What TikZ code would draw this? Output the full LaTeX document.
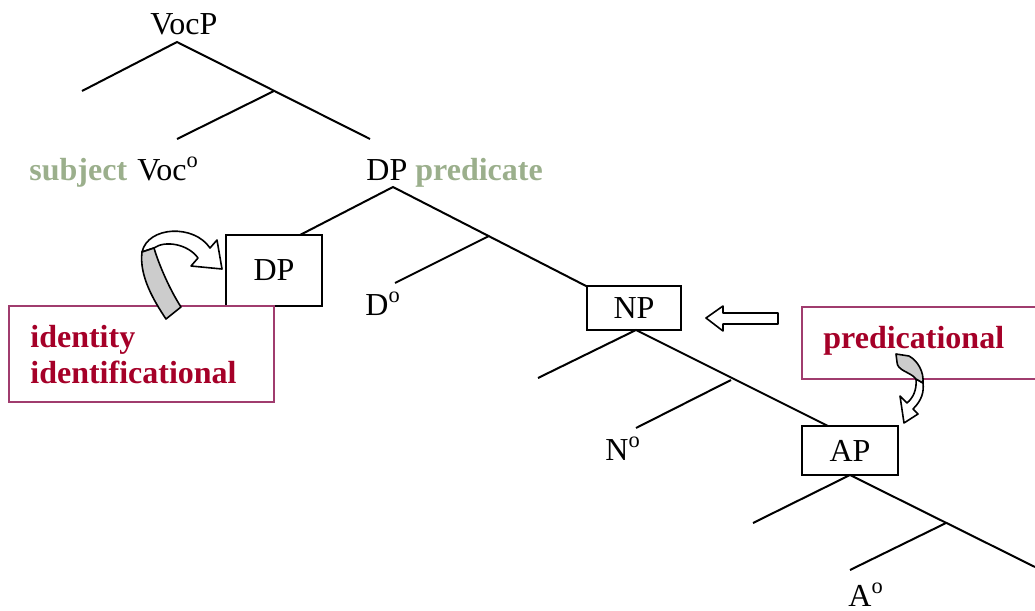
\documentclass[tikz,border=0pt]{standalone}
\usepackage{fontspec}
\setmainfont{Liberation Serif}
\usetikzlibrary{calc}
\definecolor{subjgreen}{RGB}{155,175,140}
\definecolor{rolered}{RGB}{165,0,40}
\definecolor{boxpink}{RGB}{160,60,110}
\tikzset{
  lbl/.style={anchor=base west,inner sep=0pt,font=\fontsize{16}{19}\selectfont},
  greenlbl/.style={lbl,font=\fontsize{16}{19}\selectfont\bfseries,text=subjgreen},
  rolelbl/.style={lbl,font=\fontsize{16}{19}\selectfont\bfseries,text=rolered},
  branch/.style={line width=1pt},
  catbox/.style={draw,line width=1pt,inner sep=0pt,font=\fontsize{16}{19}\selectfont},
  rolebox/.style={draw=boxpink,line width=0.8pt},
  bendarrow/.style={draw,line width=0.8pt,line join=round},
}
\begin{document}
\begin{tikzpicture}[x=0.5pt,y=-0.5pt]
\useasboundingbox (0,0) rectangle (1035,611);

% labels
\node[lbl] (vocp) at (150,34) {VocP};
\node[greenlbl] (subj) at (29,180) {subject};
\node[lbl] (voc) at (137,180) {Voc\textsuperscript{o}};
\node[lbl] (dp) at (366,180) {DP};
\node[greenlbl] (pred) at (415,180) {predicate};
\node[lbl] (dhead) at (365,315) {D\textsuperscript{o}};
\node[lbl] (nhead) at (605,460) {N\textsuperscript{o}};
\node[lbl] (ahead) at (848,606) {A\textsuperscript{o}};

\node[catbox,minimum width=48pt,minimum height=35.5pt] (dpbox) at (274,270.5) {DP};
\node[catbox,minimum width=47pt,minimum height=22pt] (npbox) at (634,308) {NP};
\node[catbox,minimum width=48pt,minimum height=24.5pt] (apbox) at (850,450.5) {AP};

% VocP
\coordinate (voc-root) at (177,42);
\coordinate (voc-spec) at (82,91);
\coordinate (voc-bar) at (274,91);
\coordinate (voc-head) at (177,139);
\coordinate (voc-comp) at (370,139);
\draw[branch] (voc-spec) -- (voc-root) -- (voc-comp);
\draw[branch] (voc-bar) -- (voc-head);

% DP
\coordinate (dp-root) at (393,187);
\coordinate (dp-spec) at (300,235);
\coordinate (dp-bar) at (489,236);
\coordinate (dp-head) at (395,283);
\coordinate (dp-comp) at (588,287);
\draw[branch] (dp-spec) -- (dp-root) -- (dp-comp);
\draw[branch] (dp-bar) -- (dp-head);

% NP
\coordinate (np-root) at (636,330);
\coordinate (np-spec) at (538,378);
\coordinate (np-bar) at (731,380);
\coordinate (np-head) at (636,428);
\coordinate (np-comp) at (828,426);
\draw[branch] (np-spec) -- (np-root) -- (np-comp);
\draw[branch] (np-bar) -- (np-head);

% AP
\coordinate (ap-root) at (850,475);
\coordinate (ap-spec) at (753,523);
\coordinate (ap-bar) at (946,523);
\coordinate (ap-head) at (850,570);
\coordinate (ap-comp) at (1035,567);
\draw[branch] (ap-spec) -- (ap-root) -- (ap-comp);
\draw[branch] (ap-bar) -- (ap-head);

% role boxes
\draw[rolebox] (9,306) rectangle (274,402);
\node[rolelbl] (ident) at (30,347) {identity};
\node[rolelbl] (identf) at (30,383) {identificational};
\draw[rolebox] (802,307) rectangle (1045,379);
\node[rolelbl] (predic) at (823,348) {predicational};

% hollow arrow
\draw[bendarrow,fill=white] (778,313) -- (723,313) -- (723,306) -- (706,318)
  -- (723,331) -- (723,324) -- (778,324) -- cycle;

% curled arrows
\draw[bendarrow,fill=white] (142,252) .. controls (148,226) and (194,224) .. (210,248)
  -- (217,240) -- (222,269) -- (191,266) -- (198,258)
  .. controls (188,244) and (165,240) .. (154,248) -- cycle;
\draw[bendarrow,fill=gray!40] (142,252) .. controls (139,276) and (154,301) .. (166,319)
  -- (181,307) .. controls (170,290) and (159,265) .. (154,248) -- cycle;

\draw[bendarrow,fill=white] (916,379) .. controls (917,390) and (913,398) .. (907,403)
  -- (900,396) -- (904,423) -- (918,414) -- (913,409)
  .. controls (922,400) and (924,392) .. (923,383) -- cycle;
\draw[bendarrow,fill=gray!40] (896,354) -- (909,356) .. controls (918,361) and (924,372) .. (923,383)
  -- (916,379) .. controls (911,372) and (897,371) .. (897,362) -- cycle;
\end{tikzpicture}
\end{document}
